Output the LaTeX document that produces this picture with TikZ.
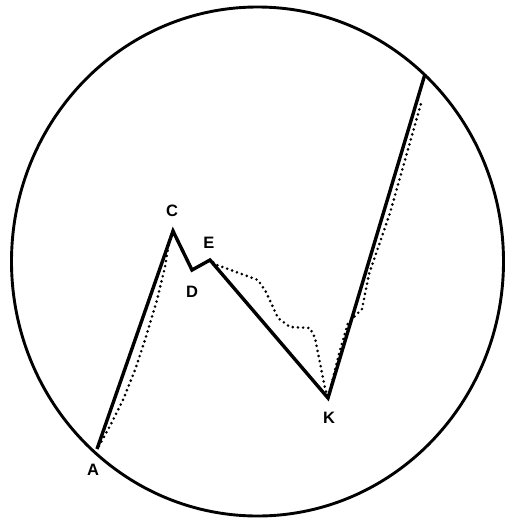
\documentclass[tikz,border=0pt]{standalone}
\usepackage{fontspec}
\setmainfont{Liberation Sans}
\begin{document}
\begin{tikzpicture}[x=1pt,y=-1pt,
  solidline/.style={line width=3.4pt,line join=miter},
  dotline/.style={line width=2.9pt,dash pattern=on 0pt off 5.2pt,line cap=round},
  lbl/.style={font=\bfseries\fontsize{16.5}{18}\selectfont,inner sep=0pt}]
\useasboundingbox (0,0) rectangle (505,520);
\draw[line width=2.9pt] (257.5,261.5) ellipse [x radius=246,y radius=254.5];
\coordinate (A) at (97,449);
\coordinate (C) at (173,231);
\coordinate (D) at (192,270);
\coordinate (E) at (210,260);
\coordinate (K) at (328,398);
\coordinate (T) at (425,74);
\draw[dotline] (99,446) -- (111,424) -- (123,400) -- (135,370) -- (145,340) -- (157,300)
  -- (165,267) -- (169,242) -- (C) -- (D) -- (E)
  -- (217,265) -- (258,280) -- (266,292) -- (278,318) -- (290,327) -- (310,328)
  -- (315,338) -- (325,388) -- (K) -- (340,350) -- (348,323) -- (362,309)
  -- (369,274) -- (390,213) -- (422,100);
\draw[solidline] (A) -- (C) -- (D) -- (E) -- (K) -- (T);
\node[lbl] (la) at (93,470) {A};
\node[lbl] (lc) at (172,211) {C};
\node[lbl] (ld) at (192,292) {D};
\node[lbl] (le) at (209,243) {E};
\node[lbl] (lk) at (329,418) {K};
\end{tikzpicture}
\end{document}
